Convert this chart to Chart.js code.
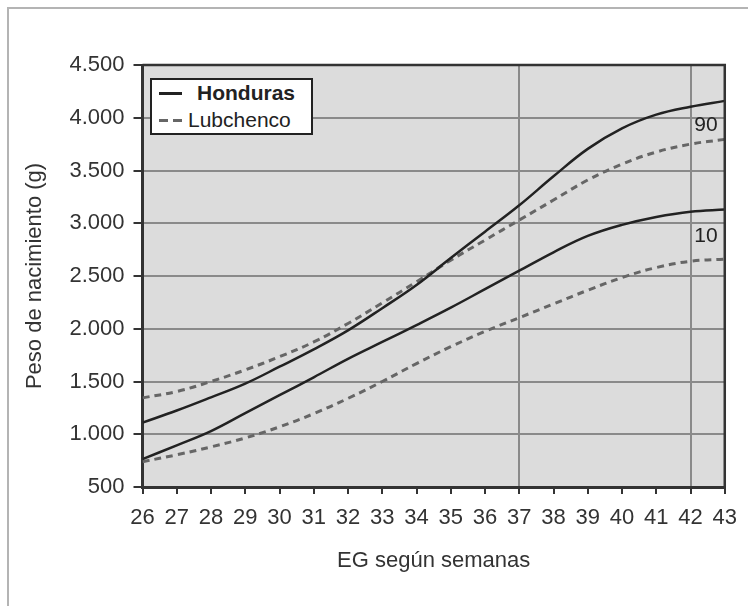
<!DOCTYPE html>
<html>
<head>
<meta charset="utf-8">
<script src="https://cdn.jsdelivr.net/npm/chart.js@4.4.0/dist/chart.umd.min.js"></script>
<style>
  html, body { margin: 0; padding: 0; background: #fff; }
  #wrap { position: relative; width: 748px; height: 606px; overflow: hidden; }
  #frame { position: absolute; left: 7px; top: 7px; width: 760px; height: 620px;
           border-top: 2px solid #b4b4b4; border-left: 2px solid #b4b4b4; }
  canvas { position: absolute; left: 0; top: 0; }
  #legend { position: absolute; left: 150px; top: 78px; width: 159px; height: 53px;
            border: 2px solid #222; background: #fff;
            font-family: "Liberation Sans", Arial, sans-serif; font-size: 21px; color: #222; }
  #legend .sw { position: absolute; left: 7px; width: 23px; height: 3px; }
  #legend .txt { position: absolute; line-height: 24px; }
</style>
</head>
<body>
<div id="wrap">
  <div id="frame"></div>
  <canvas id="chart" width="748" height="606"></canvas>
  <div id="legend">
    <span class="sw" style="top:12px;background:#222"></span>
    <span class="txt" style="left:45px;top:1px;font-weight:bold">Honduras</span>
    <span class="sw" style="top:39px;background:repeating-linear-gradient(to right,#666 0 9px,transparent 9px 14px)"></span>
    <span class="txt" style="left:36px;top:28px">Lubchenco</span>
  </div>
</div>
<script>
// semanas de edad gestacional
const weeks = [26, 27, 28, 29, 30, 31, 32, 33, 34, 35, 36, 37, 38, 39, 40, 41, 42, 43];

// percentiles de peso al nacer (g)
const honduras90 = [1110, 1225, 1350, 1480, 1640, 1805, 1985, 2195, 2415, 2670, 2920, 3170, 3445, 3705, 3900, 4030, 4105, 4160];
const honduras10 = [765, 895, 1030, 1200, 1370, 1540, 1715, 1875, 2035, 2200, 2375, 2550, 2725, 2880, 2985, 3060, 3110, 3130];
const lubchenco90 = [1345, 1405, 1500, 1610, 1735, 1875, 2050, 2245, 2445, 2650, 2840, 3030, 3220, 3410, 3560, 3675, 3750, 3795];
const lubchenco10 = [740, 805, 880, 965, 1070, 1195, 1340, 1500, 1670, 1830, 1975, 2105, 2235, 2365, 2485, 2580, 2640, 2660];

const percentileLabels = ['90', '10'];

const FONT = '"Liberation Sans", Arial, sans-serif';

function toPoints(values) {
  return values.map((v, i) => ({ x: weeks[i], y: v }));
}

function fmt(v) {
  return String(v).replace(/\B(?=(\d{3})+(?!\d))/g, '.');
}

const plotFrame = {
  id: 'plotFrame',
  beforeDraw(chart) {
    const { ctx, chartArea: a } = chart;
    ctx.save();
    ctx.fillStyle = '#dcdcdc';
    ctx.fillRect(a.left, a.top, a.right - a.left, a.bottom - a.top);
    ctx.restore();
  },
  afterDatasetsDraw(chart) {
    const { ctx, chartArea: a, scales } = chart;
    ctx.save();
    ctx.strokeStyle = '#333';
    ctx.lineWidth = 2.5;
    ctx.beginPath();
    ctx.moveTo(a.left, a.top);
    ctx.lineTo(a.right, a.top);
    ctx.lineTo(a.right, a.bottom);
    ctx.stroke();

    // etiquetas de percentil junto a las curvas
    ctx.fillStyle = '#222';
    ctx.font = '21px ' + FONT;
    ctx.textAlign = 'center';
    ctx.textBaseline = 'middle';
    const xl = scales.x.getPixelForValue(42.45);
    ctx.fillText(percentileLabels[0], xl, scales.y.getPixelForValue(3930));
    ctx.fillText(percentileLabels[1], xl, scales.y.getPixelForValue(2880));
    ctx.restore();
  }
};

new Chart(document.getElementById('chart'), {
  type: 'line',
  data: {
    datasets: [
      { label: 'Honduras 90', data: toPoints(honduras90), borderColor: '#222', borderWidth: 2.5 },
      { label: 'Honduras 10', data: toPoints(honduras10), borderColor: '#222', borderWidth: 2.5 },
      { label: 'Lubchenco 90', data: toPoints(lubchenco90), borderColor: '#666', borderWidth: 3, borderDash: [7, 5] },
      { label: 'Lubchenco 10', data: toPoints(lubchenco10), borderColor: '#666', borderWidth: 3, borderDash: [7, 5] }
    ]
  },
  options: {
    responsive: false,
    animation: false,
    devicePixelRatio: 1,
    layout: { padding: { left: 10, top: 65, right: 21, bottom: 19 } },
    elements: {
      point: { radius: 0 },
      line: { tension: 0.4, fill: false }
    },
    plugins: { legend: { display: false }, tooltip: { enabled: false } },
    scales: {
      x: {
        type: 'linear',
        min: 26,
        max: 43,
        afterFit(s) { s.height = 100; },
        border: { color: '#333', width: 3 },
        grid: {
          color: c => (c.tick && (c.tick.value === 37 || c.tick.value === 42)) ? '#8a8a8a' : 'rgba(0,0,0,0)',
          lineWidth: 2,
          tickColor: '#333',
          tickLength: 7
        },
        ticks: { stepSize: 1, color: '#333', padding: 11, font: { family: FONT, size: 22 } },
        title: {
          display: true,
          text: 'EG según semanas',
          color: '#333',
          font: { family: FONT, size: 22 },
          padding: { top: 0, bottom: 13 }
        }
      },
      y: {
        min: 500,
        max: 4500,
        afterFit(s) { s.width = 132.5; },
        border: { color: '#333', width: 3 },
        grid: {
          color: c => (c.tick && c.tick.value > 500 && c.tick.value < 4500) ? '#8a8a8a' : 'rgba(0,0,0,0)',
          lineWidth: 2,
          tickColor: '#333',
          tickLength: 9
        },
        ticks: { stepSize: 500, color: '#333', padding: 9, font: { family: FONT, size: 22 }, callback: v => fmt(v) },
        title: {
          display: true,
          text: 'Peso de nacimiento (g)',
          color: '#333',
          font: { family: FONT, size: 22 },
          padding: { top: 12, bottom: 0 }
        }
      }
    }
  },
  plugins: [plotFrame]
});
</script>
</body>
</html>
